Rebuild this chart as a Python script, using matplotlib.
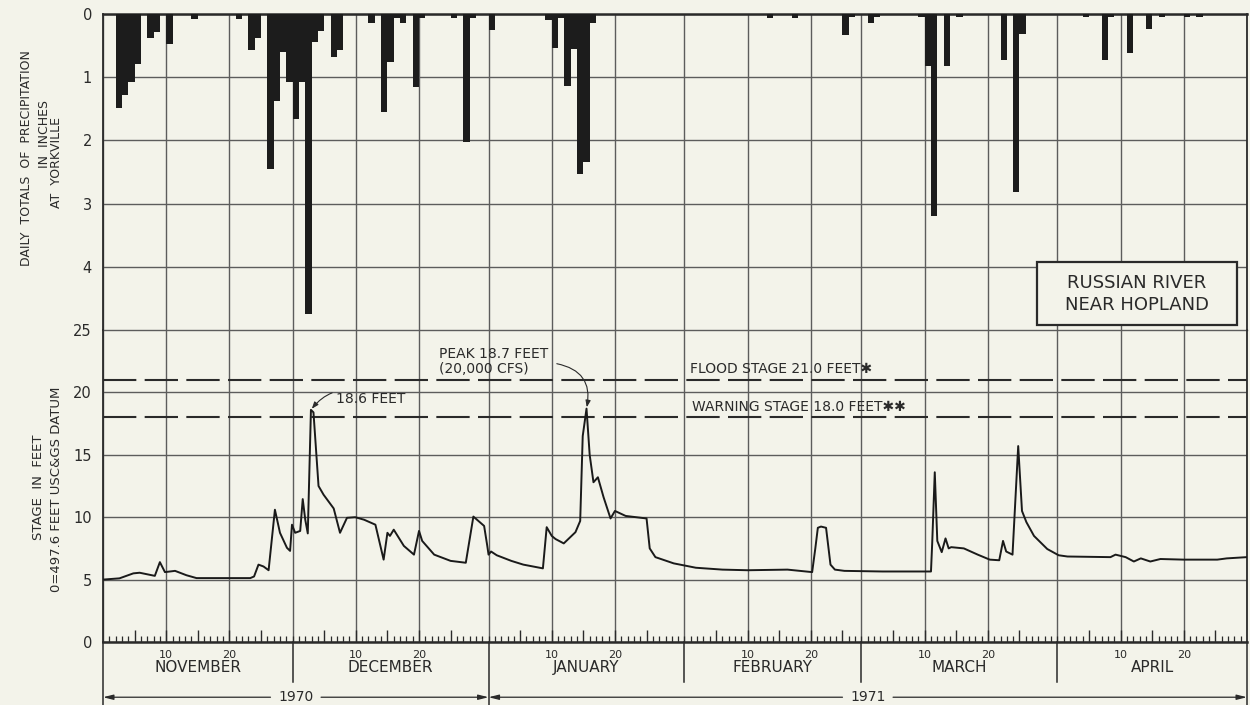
import matplotlib
matplotlib.use("Agg")
import matplotlib.pyplot as plt
import matplotlib.transforms as mtransforms
from matplotlib.patches import Rectangle

# ---------------- data ----------------
# x axis: days since 1 Nov 1970 (0 .. 181 = end of 30 Apr 1971)
months = ["NOVEMBER", "DECEMBER", "JANUARY", "FEBRUARY", "MARCH", "APRIL"]
month_lengths = [30, 31, 31, 28, 31, 30]
day_labels = ["10", "20"]

# daily precipitation totals at Yorkville (inches), by day index
precip_day = [2, 3, 4, 5, 7, 8, 10, 14, 21, 23, 24, 26, 27, 28, 29, 30, 31, 32, 33, 34,
              36, 37, 42, 44, 45, 46, 47, 49, 50, 55, 57, 58, 61,
              70, 71, 72, 73, 74, 75, 76, 77,
              105, 109, 117, 118, 121, 122,
              129, 130, 131, 133, 135, 142, 144, 145,
              155, 158, 159, 162, 165, 167, 171, 173]
precip_in = [1.48, 1.28, 1.07, 0.79, 0.38, 0.29, 0.48, 0.08, 0.08, 0.57, 0.38, 2.45, 1.37, 0.60, 1.08, 1.66, 1.07, 4.75, 0.44, 0.27,
             0.68, 0.57, 0.15, 1.55, 0.76, 0.07, 0.15, 1.15, 0.07, 0.07, 2.02, 0.07, 0.25,
             0.10, 0.54, 0.07, 1.14, 0.56, 2.53, 2.34, 0.15,
             0.07, 0.07, 0.33, 0.05, 0.15, 0.04,
             0.05, 0.83, 3.20, 0.82, 0.05, 0.73, 2.81, 0.32,
             0.05, 0.73, 0.05, 0.62, 0.23, 0.05, 0.05, 0.05]

# river stage near Hopland (feet)
stage_day = [0, 2.6, 4.8, 5.8, 8.2, 9.0, 9.8, 11.4, 13.2, 14.8, 23.3, 23.9, 24.6, 25.4, 26.2,
             27.2, 28.0, 29.1, 29.6, 29.9, 30.4, 31.2, 31.6, 32.0, 32.4, 32.9, 33.3, 34.1, 34.9,
             36.5, 37.5, 38.6, 39.9, 41.3, 43.1, 44.4, 45.0, 45.4, 46.0, 47.6, 49.2, 50.0, 50.5,
             52.4, 55.0, 57.4, 58.6, 60.3, 60.8,
             61.0, 61.4, 62.3, 64.6, 66.5, 69.6, 70.2, 71.0, 71.6, 72.9, 74.75, 75.5, 75.9, 76.5,
             77.0, 77.6, 78.3, 79.2, 80.3, 81.0, 82.7, 86.0, 86.5, 87.4, 90.3, 93.8, 98.0, 102.0,
             108.3, 112.2, 112.7, 113.1, 113.6, 114.4, 115.1, 115.8, 117.3, 123.3, 131.0, 131.2,
             131.6, 132.0, 132.7, 133.3, 133.8, 134.2, 136.2, 138.4, 140.3, 141.8, 142.4, 142.9,
             143.9, 144.8, 145.4, 146.1, 147.3, 149.4, 151.2, 152.6, 159.4, 160.2, 161.8, 163.1,
             164.2, 165.7, 167.3, 171.0, 176.3, 177.8, 181.0]
stage_ft = [5.0, 5.1, 5.5, 5.55, 5.3, 6.4, 5.6, 5.7, 5.35, 5.12, 5.12, 5.25, 6.2, 6.05, 5.75,
            10.6, 8.75, 7.55, 7.3, 9.4, 8.75, 8.9, 11.45, 9.8, 8.7, 18.6, 18.4, 12.5, 11.8,
            10.7, 8.75, 9.95, 10.0, 9.8, 9.4, 6.6, 8.75, 8.5, 9.0, 7.7, 7.0, 8.9, 8.1,
            7.0, 6.5, 6.35, 10.05, 9.3, 7.7,
            7.0, 7.25, 6.95, 6.5, 6.2, 5.9, 9.2, 8.5, 8.25, 7.9, 8.8, 9.7, 16.5, 18.7,
            15.0, 12.8, 13.2, 11.6, 9.9, 10.5, 10.1, 9.9, 7.5, 6.8, 6.3, 5.95, 5.8, 5.75,
            5.8, 5.6, 7.5, 9.15, 9.25, 9.15, 6.2, 5.8, 5.7, 5.65, 5.65, 8.0,
            13.6, 8.1, 7.2, 8.3, 7.5, 7.6, 7.5, 7.0, 6.6, 6.55, 8.1, 7.25,
            7.0, 15.7, 10.5, 9.6, 8.5, 7.45, 6.95, 6.85, 6.8, 7.0, 6.8, 6.45,
            6.7, 6.45, 6.65, 6.6, 6.6, 6.7, 6.8]

flood_stage = 21.0
warning_stage = 18.0
peak1 = (32.9, 18.6)
peak2 = (76.5, 18.7)
years = ["1970", "1971"]

# ---------------- style ----------------
BG = "#f3f3ea"
INK = "#2a2a2a"
GRID = "#5c5c5c"
plt.rcParams["font.family"] = ["DejaVu Sans"]

fig = plt.figure(figsize=(12.5, 7.05), dpi=100, facecolor=BG)
L, R = 103 / 1250, 1247 / 1250
T, M, B = 1 - 14 / 705, 1 - 330 / 705, 1 - 642 / 705
axp = fig.add_axes([L, M, R - L, T - M], facecolor=BG)
axs = fig.add_axes([L, B, R - L, M - B], facecolor=BG)

# month boundaries and 10-day gridlines
starts = [0]
for n in month_lengths:
    starts.append(starts[-1] + n)
total = starts[-1]
grid_days = []
for s, n in zip(starts[:-1], month_lengths):
    grid_days += [s, s + 10, s + 20]
grid_days.append(total)

for ax in (axp, axs):
    ax.set_xlim(0, total)
    for d in grid_days:
        ax.axvline(d, color=GRID, lw=1.0, zorder=1)
    for sp in ax.spines.values():
        sp.set_color(INK)
    ax.spines["left"].set_linewidth(1.3)
    ax.spines["right"].set_linewidth(1.3)
    ax.tick_params(axis="y", length=0, pad=8, labelsize=10.5, labelcolor=INK)

axp.set_ylim(5, 0)
axp.set_yticks([0, 1, 2, 3, 4])
axp.set_yticklabels(["0", "1", "2", "3", "4"])
axp.grid(axis="y", color=GRID, lw=1.0, zorder=1)
axp.set_xticks([])
axp.spines["top"].set_linewidth(1.8)
axp.spines["bottom"].set_linewidth(1.0)
axp.spines["bottom"].set_color(GRID)

axs.set_ylim(0, 25)
axs.set_yticks([0, 5, 10, 15, 20, 25])
axs.set_yticklabels(["0", "5", "10", "15", "20", "25"])
axs.grid(axis="y", color=GRID, lw=1.0, zorder=1)
axs.spines["top"].set_visible(False)
axs.spines["bottom"].set_linewidth(1.8)

# bottom ticks: daily minor, 5-day major with "10"/"20" labels
major_pos, major_lab = [], []
for s in starts[:-1]:
    for k in (5, 10, 15, 20, 25):
        major_pos.append(s + k)
        major_lab.append(day_labels[k // 10 - 1] if k % 10 == 0 else "")
axs.set_xticks(major_pos)
axs.set_xticklabels(major_lab)
axs.set_xticks(list(range(1, total)), minor=True)
axs.tick_params(axis="x", which="major", direction="in", length=9, width=1.0,
                color=INK, labelsize=8, labelcolor=INK, pad=6)
axs.tick_params(axis="x", which="minor", direction="in", length=4.5, width=0.9, color=INK)

# precipitation bars hanging from the top
axp.bar(precip_day, precip_in, width=1.0, align="edge", color="#1c1c1c", lw=0, zorder=3)

# stage hydrograph
axs.axhline(flood_stage, color=INK, lw=1.5, dashes=(16, 4), zorder=2)
axs.axhline(warning_stage, color=INK, lw=1.5, dashes=(16, 4), zorder=2)
axs.plot(stage_day, stage_ft, color="#1a1a1a", lw=1.4, zorder=4, solid_joinstyle="round")

# annotations
axs.annotate("18.6 FEET", xy=peak1, xytext=(36.9, 19.45), ha="left", va="center",
             fontsize=10, color=INK,
             arrowprops=dict(arrowstyle="-|>,head_length=0.4,head_width=0.15",
                             connectionstyle="arc3,rad=0.45", color=INK, lw=0.8,
                             shrinkA=1, shrinkB=1))
axs.text(53.2, 23.1, "PEAK 18.7 FEET", ha="left", va="center", fontsize=10, color=INK)
axs.text(53.2, 21.85, "(20,000 CFS)", ha="left", va="center", fontsize=10, color=INK)
axs.annotate("", xy=peak2, xytext=(71.8, 22.3),
             arrowprops=dict(arrowstyle="-|>,head_length=0.4,head_width=0.15",
                             connectionstyle="arc3,rad=-0.5", color=INK, lw=0.8,
                             shrinkA=0, shrinkB=1))
axs.text(92.9, 21.9, "FLOOD STAGE 21.0 FEET\u2731", ha="left", va="center", fontsize=10, color=INK)
axs.text(93.2, 18.8, "WARNING STAGE 18.0 FEET\u2731\u2731", ha="left", va="center", fontsize=10, color=INK)

# station box
axp.add_patch(Rectangle((147.8, 3.92), 31.6, 1.0, fc=BG, ec=INK, lw=1.6, zorder=5))
axp.text(163.6, 4.25, "RUSSIAN RIVER", ha="center", va="center", fontsize=13, color=INK, zorder=6)
axp.text(163.6, 4.6, "NEAR HOPLAND", ha="center", va="center", fontsize=13, color=INK, zorder=6)

# axis titles
fig.text(27 / 1250, 1 - 158 / 705, "DAILY  TOTALS  OF  PRECIPITATION", rotation=90,
         ha="center", va="center", fontsize=9, color=INK)
fig.text(44 / 1250, 1 - 134 / 705, "IN  INCHES", rotation=90, ha="center", va="center",
         fontsize=9, color=INK)
fig.text(57 / 1250, 1 - 162 / 705, "AT  YORKVILLE", rotation=90, ha="center", va="center",
         fontsize=9, color=INK)
fig.text(38 / 1250, 1 - 487 / 705, "STAGE  IN  FEET", rotation=90, ha="center", va="center",
         fontsize=9.5, color=INK)
fig.text(57 / 1250, 1 - 489 / 705, "0=497.6 FEET USC&GS DATUM", rotation=90, ha="center",
         va="center", fontsize=9.5, color=INK)

# month names, separators and year arrows below the axis
blend = mtransforms.blended_transform_factory(axs.transData, axs.transAxes)
for s, n, name in zip(starts[:-1], month_lengths, months):
    axs.text(s + n / 2, -0.083, name, transform=blend, ha="center", va="center",
             fontsize=11, color=INK, clip_on=False)
for s in starts:
    depth = -0.22 if s in (0, starts[2], total) else -0.128
    axs.plot([s, s], [0, depth], transform=blend, color=INK, lw=1.1, clip_on=False)

ya = -0.177
spans = [(0, starts[2]), (starts[2], total)]
for (a, b), yr in zip(spans, years):
    c = (a + b) / 2
    axs.text(c, ya, yr, transform=blend, ha="center", va="center", fontsize=10,
             color=INK, clip_on=False)
    for end, start in ((a, c - 4.0), (b, c + 4.0)):
        axs.annotate("", xy=(end, ya), xytext=(start, ya), xycoords=blend, textcoords=blend,
                     annotation_clip=False,
                     arrowprops=dict(arrowstyle="-|>,head_length=0.6,head_width=0.15",
                                     color=INK, lw=0.9, shrinkA=0, shrinkB=0))

fig.savefig("out.png", dpi=100, facecolor=BG)
